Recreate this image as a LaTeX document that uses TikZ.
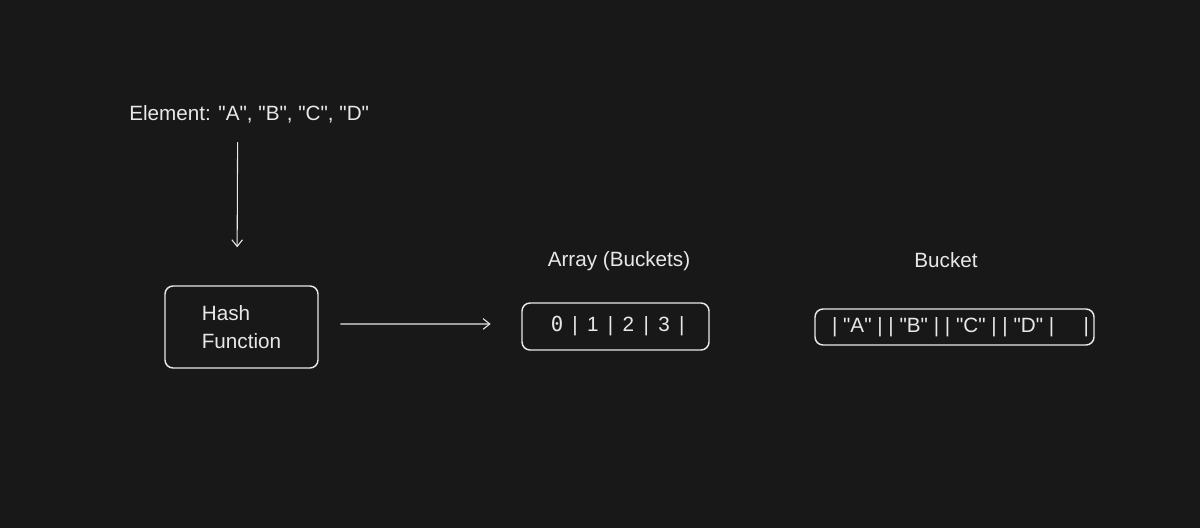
\documentclass[tikz,border=0pt]{standalone}
\usepackage{fontspec}
\setmainfont{Liberation Sans}
\newfontfamily\monofont{DejaVu Sans Mono}
\usetikzlibrary{arrows.meta}
\definecolor{bgdark}{RGB}{24,24,24}
\definecolor{inkwhite}{RGB}{232,232,232}
\newcommand{\qmark}{\textquotedbl}
\newcommand{\slot}[1]{\makebox[13.35pt]{#1}}

\begin{document}
\begin{tikzpicture}[x=0.75pt,y=-0.75pt,line cap=round,line join=round,
  >={Straight Barb[length=5pt,width=8pt]},
  every node/.style={text=inkwhite,font=\fontsize{15.5}{21}\selectfont,inner sep=0pt},
  box/.style={draw=inkwhite,line width=1.1pt,rounded corners=6pt},
  conn/.style={->,draw=inkwhite,line width=0.8pt}]
\fill[bgdark] (0,0) rectangle (1200,528);
\useasboundingbox (0,0) rectangle (1200,528);
%input
\node[anchor=base west] (elem) at (129,121) {Element: \qmark A\qmark, \qmark B\qmark, \qmark C\qmark, \qmark D\qmark};
\node[box,minimum width=114.75pt,minimum height=61.5pt,align=left] (hash) at (241.5,327) {Hash\\Function};
%buckets
\node (arrlabel) at (619,261) {Array (Buckets)};
\node[box,minimum width=140.25pt,minimum height=35.25pt] (array) at (615.5,326.5)
  {\hspace{6pt}\slot{\monofont 0}\slot{|}\slot{1}\slot{|}\slot{2}\slot{|}\slot{3}\slot{|}};
\node (bktlabel) at (946,260) {Bucket};
\node[box,minimum width=209.25pt,minimum height=27pt] (bucket) at (954.5,327)
  {\hspace{9pt}| \qmark A\qmark{} | | \qmark B\qmark{} | | \qmark C\qmark{} | | \qmark D\qmark{} |\hspace{22pt}|};
%connectors
\draw[conn,shorten <=14pt,shorten >=28.5pt] ([xshift=-8.6pt]elem.south) -- ([xshift=-3.4pt]hash.north);
\draw[conn,shorten <=16.5pt,shorten >=23pt] ([yshift=2.25pt]hash.east) -- ([yshift=1.9pt]array.west);
\end{tikzpicture}
\end{document}
